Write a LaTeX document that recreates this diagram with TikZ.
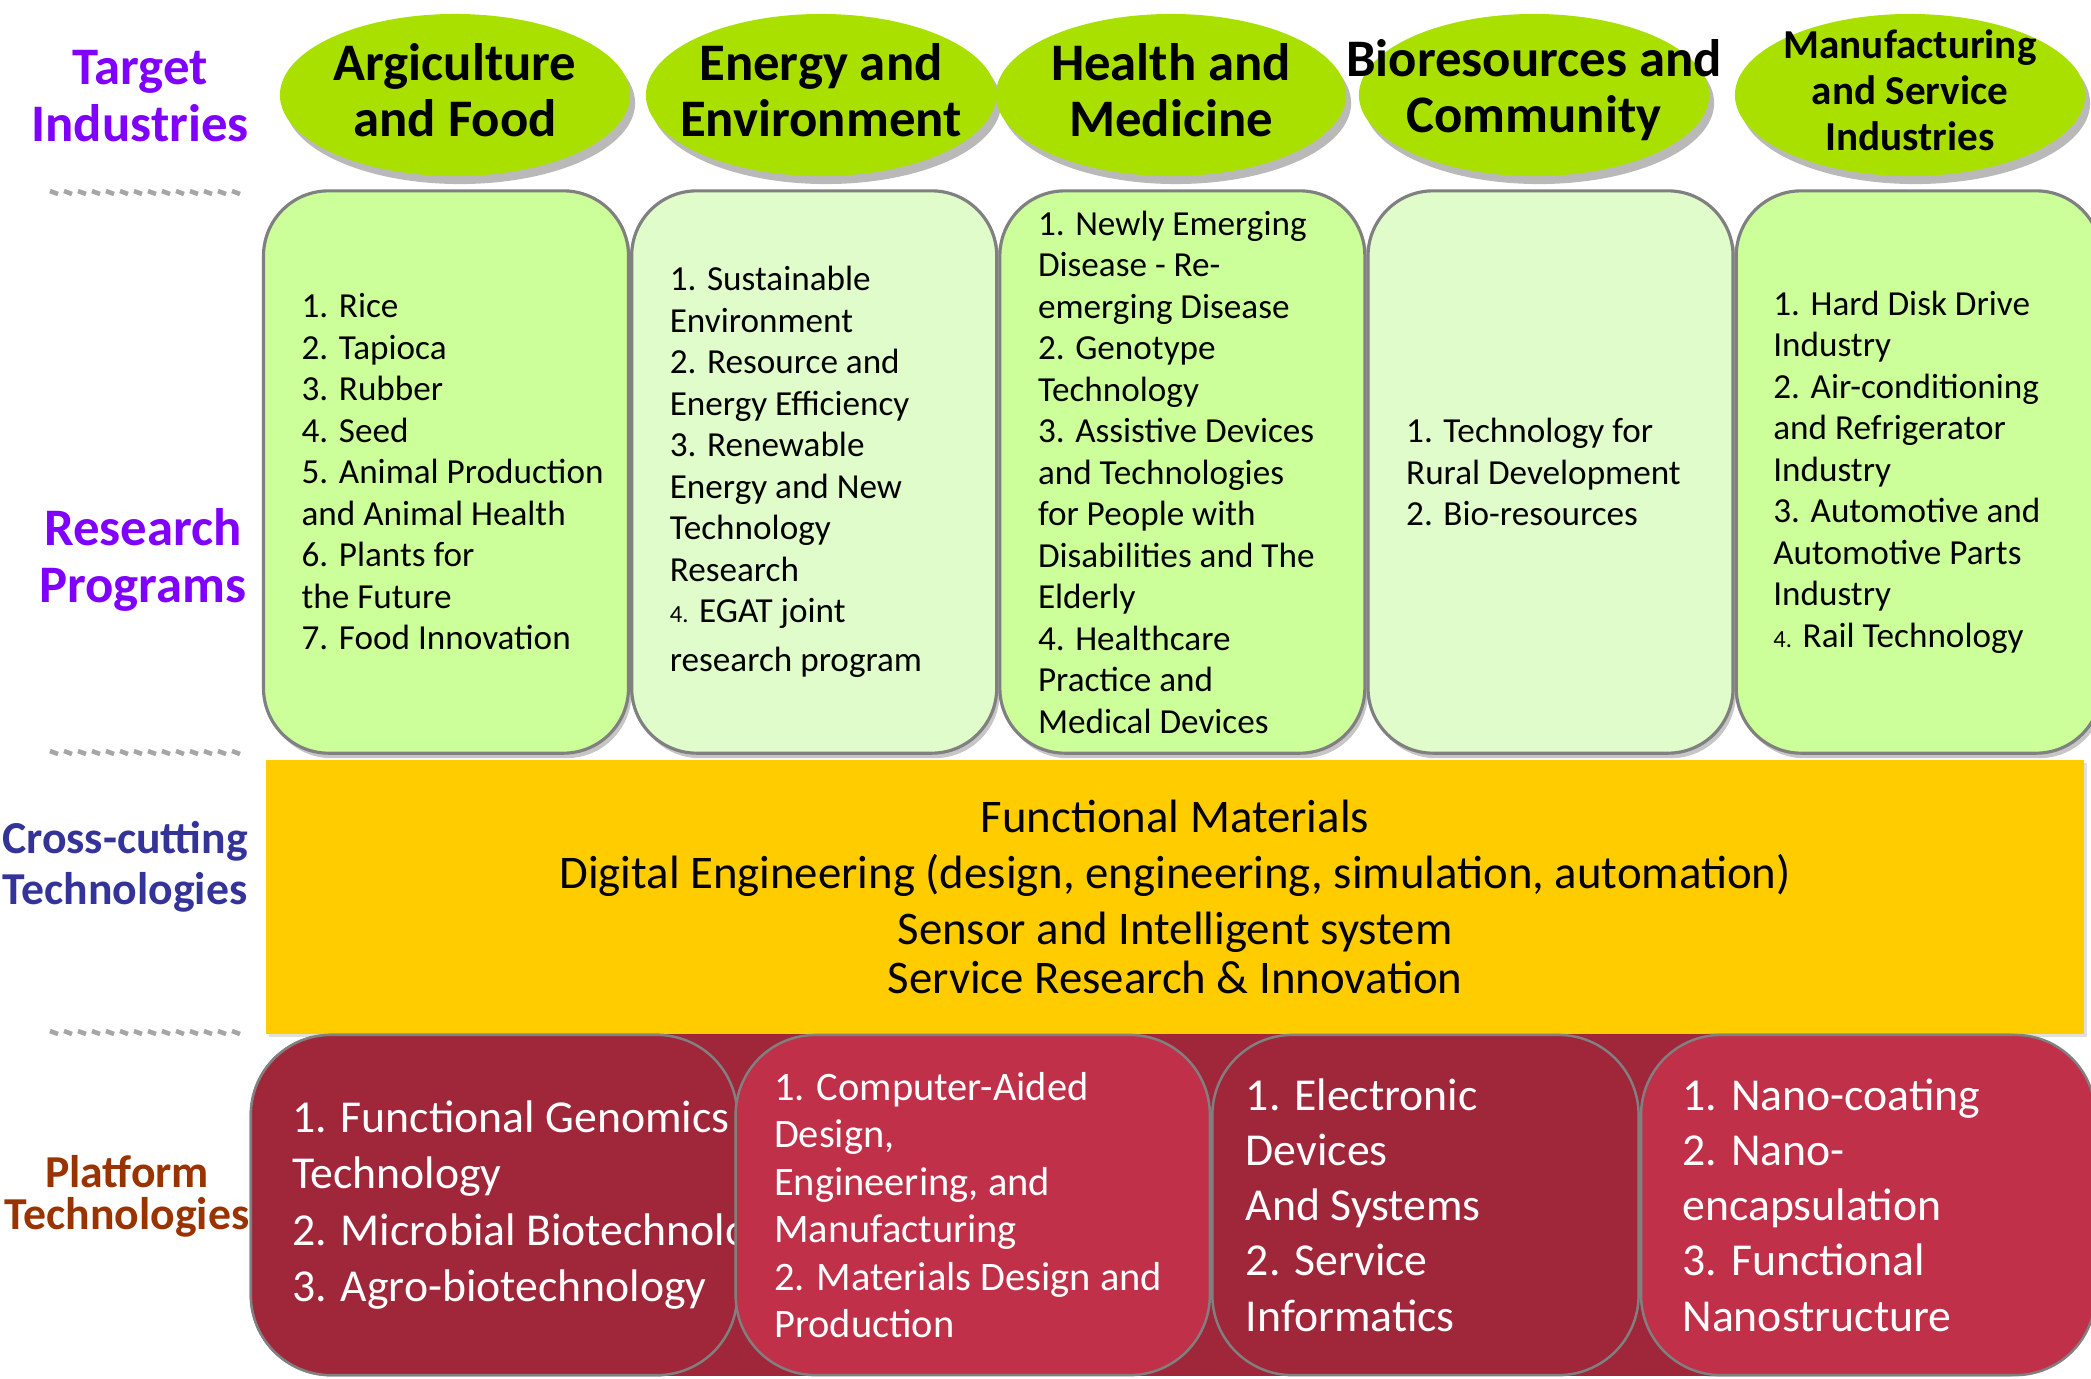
\documentclass[tikz,border=0pt]{standalone}
\usepackage{fontspec}
\setmainfont{Carlito}
\usepackage{xcolor}
\usepackage{tikz}
\usetikzlibrary{positioning,shapes.geometric,shadows}

\definecolor{indgreen}{RGB}{170,224,0}
\definecolor{progdark}{RGB}{204,255,153}
\definecolor{proglight}{RGB}{225,252,203}
\definecolor{crossyellow}{RGB}{255,204,0}
\definecolor{platdark}{RGB}{160,38,58}
\definecolor{platlight}{RGB}{192,48,72}
\definecolor{labelpurple}{RGB}{128,0,255}
\definecolor{labelblue}{RGB}{51,51,153}
\definecolor{labelbrown}{RGB}{153,51,0}

\begin{document}
\begin{tikzpicture}[x=0.01cm, y=-0.01cm,
    industry/.style={ellipse, fill=indgreen, minimum width=3.5cm, minimum height=1.62cm, inner sep=0pt,
        drop shadow={shadow xshift=0.05cm, shadow yshift=-0.08cm, opacity=0.55}},
    indtext/.style={align=center, inner sep=0pt, font=\bfseries\fontsize{15}{16}\selectfont},
    rowlabel/.style={align=center, font=\bfseries\fontsize{15}{16.3}\selectfont},
    progbox/.style={rectangle, rounded corners=0.65cm, draw=gray, line width=0.9pt, minimum width=3.648cm,
        minimum height=5.62cm, inner sep=0pt, drop shadow={shadow xshift=0.03cm, shadow yshift=-0.05cm, opacity=0.45}},
    progtext/.style={align=left, inner sep=0pt, font=\fontsize{10}{11.8}\selectfont},
    platbox/.style={rectangle, rounded corners=0.8cm, draw=gray, line width=0.7pt, minimum height=3.4cm, inner sep=0pt},
    plattext/.style={align=left, inner sep=0pt, text=white, font=\fontsize{13}{15.7}\selectfont},
    sepmark/.style={gray!70, line width=1.3pt}]

    \useasboundingbox (0,0) rectangle (2091,1378);

    % row labels
    \node[rowlabel, text=labelpurple] (targetlbl) at (140,96) {Target\\Industries};
    \node[rowlabel, text=labelpurple] (researchlbl) at (143,560) {Research\\Programs};
    \node[rowlabel, text=labelblue, font=\bfseries\fontsize{13}{14.5}\selectfont] (crosslbl) at (125,867) {Cross-cutting\\Technologies};
    \node[rowlabel, text=labelbrown, font=\bfseries\fontsize{13}{12}\selectfont] (platlbl) at (127,1196) {Platform\\Technologies};

    \foreach \ypos in {193,753,1033}
        \foreach \k in {0,...,13}
            \draw[sepmark] (50+14*\k,\ypos-2) -- ++(8,3);

    % target industries
    \node[industry] (agri) at (455,95) {};
    \node[industry] (energy) at (821,95) {};
    \node[industry] (health) at (1171,95) {};
    \node[industry] (biores) at (1534,95) {};
    \node[industry] (manuf) at (1910,95) {};
    \node[indtext] (agritit) at ([yshift=0.05cm]agri.center) {Argiculture\\and Food};
    \node[indtext] (energytit) at ([yshift=0.05cm]energy.center) {Energy and\\Environment};
    \node[indtext] (healthtit) at ([yshift=0.05cm]health.center) {Health and\\Medicine};
    \node[indtext] (biorestit) at ([yshift=0.05cm]biores.center) {Bioresources and\\Community};
    \node[indtext, font=\bfseries\fontsize{11.7}{13}\selectfont] (manuftit) at ([yshift=0.05cm]manuf.center) {Manufacturing\\and Service\\Industries};

    % research programs
    \node[progbox, fill=progdark] (agriprog) at (446,472) {};
    \node[progbox, fill=proglight, right=0pt of agriprog] (energyprog) {};
    \node[progbox, fill=progdark, right=0pt of energyprog] (healthprog) {};
    \node[progbox, fill=proglight, right=0pt of healthprog] (bioprog) {};
    \node[progbox, fill=progdark, right=0pt of bioprog] (manufprog) {};

    \node[progtext, right=0.39cm of agriprog.west] (agritext) {1. Rice\\2. Tapioca\\3. Rubber\\4. Seed\\5. Animal Production\\and Animal Health\\6. Plants for\\the Future\\7. Food Innovation};
    \node[progtext, right=0.39cm of energyprog.west] (energytext) {1. Sustainable\\Environment\\2. Resource and\\Energy Efficiency\\3. Renewable\\Energy and New\\Technology\\Research\\{\fontsize{7}{8}\selectfont 4.} EGAT joint\\[2pt]research program};
    \node[progtext, right=0.39cm of healthprog.west] (healthtext) {1. Newly Emerging\\Disease - Re-\\emerging Disease\\2. Genotype\\Technology\\3. Assistive Devices\\and Technologies\\for People with\\Disabilities and The\\Elderly\\4. Healthcare\\Practice and\\Medical Devices};
    \node[progtext, right=0.39cm of bioprog.west] (biotext) {1. Technology for\\Rural Development\\2. Bio-resources};
    \node[progtext, right=0.38cm of manufprog.west] (manuftext) {1. Hard Disk Drive\\Industry\\2. Air-conditioning\\and Refrigerator\\Industry\\3. Automotive and\\Automotive Parts\\Industry\\{\fontsize{7}{8}\selectfont 4.} Rail Technology};

    % cross-cutting technologies
    \node[rectangle, fill=crossyellow, minimum width=18.17cm, minimum height=2.73cm, align=center,
        font=\fontsize{13.3}{14}\selectfont, drop shadow={shadow xshift=0.03cm, shadow yshift=-0.03cm, opacity=0.25}]
        (crosstech) at (1175,897) {Functional Materials\\[2pt]Digital Engineering (design, engineering, simulation, automation)\\[2pt]Sensor and Intelligent system\\Service Research \& Innovation};

    % platform technologies
    \node[platbox, fill=platdark, minimum width=4.86cm] (genomics) at (494,1205) {};
    \node[platbox, fill=platdark, minimum width=4.54cm] (nano) at (1860,1205) {};
    \fill[platdark] (genomics.north) rectangle (nano.south);
    \node[platbox, fill=platdark, minimum width=4.86cm] (genomicsbox) at (494,1205) {};
    \node[plattext, font=\fontsize{13}{16}\selectfont, right=0.42cm of genomicsbox.west] (genotext) {1. Functional Genomics\\Technology\\2. Microbial Biotechnology\\3. Agro-biotechnology};
    \node[platbox, fill=platlight, minimum width=4.74cm, right=-0.04cm of genomicsbox] (design) {};
    \node[plattext, font=\fontsize{11.5}{13.5}\selectfont, right=0.39cm of design.west] (designtext) {1. Computer-Aided\\Design,\\Engineering, and\\Manufacturing\\2. Materials Design and\\Production};
    \node[platbox, fill=platdark, minimum width=4.26cm, right=0pt of design] (electronic) {};
    \node[plattext, right=0.34cm of electronic.west] (electext) {1. Electronic\\Devices\\And Systems\\2. Service\\Informatics};
    \node[platbox, fill=platlight, minimum width=4.54cm, right=0pt of electronic] (nanobox) {};
    \node[plattext, right=0.42cm of nanobox.west] (nanotext) {1. Nano-coating\\2. Nano-\\encapsulation\\3. Functional\\Nanostructure};
\end{tikzpicture}
\end{document}
